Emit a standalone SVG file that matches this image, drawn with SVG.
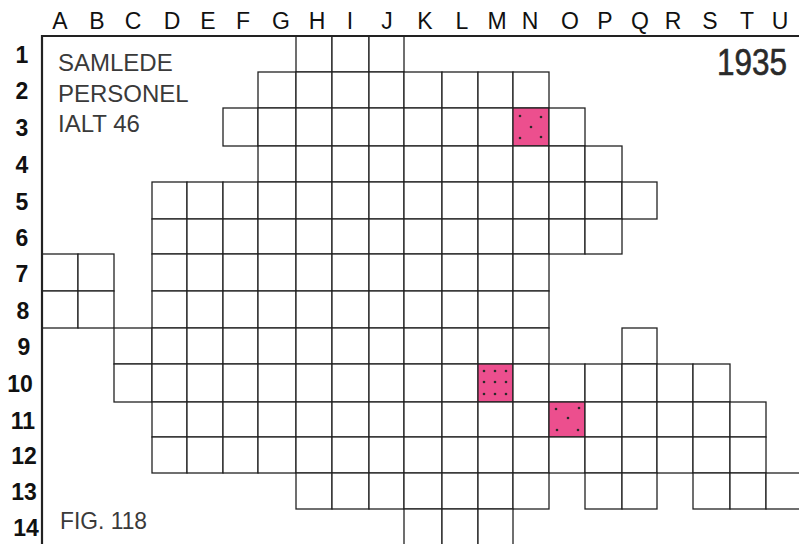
<svg xmlns="http://www.w3.org/2000/svg" width="799" height="544" viewBox="0 0 799 544">
<style>
.c{fill:#fff;stroke:#222;stroke-width:1.3}
.p{fill:#ec4f8e;stroke:#222;stroke-width:1.3}
.d{fill:#2a2a2a}
.col{font-family:"Liberation Sans",Arial,sans-serif;font-size:23px;fill:#111;text-anchor:middle}
.row{font-family:"Liberation Sans",Arial,sans-serif;font-size:23px;font-weight:bold;fill:#111;text-anchor:middle}
.t{font-family:"Liberation Sans",Arial,sans-serif;font-size:24px;fill:#3a3a3a}
.yr{fill:#2a2a2a;stroke:#2a2a2a;stroke-width:0.6}
.frame{fill:none;stroke:#222;stroke-width:2.2}
</style>
<rect width="799" height="544" fill="#fff"/>
<g id="column-labels" class="col">
<text x="60" y="29">A</text><text x="97" y="29">B</text><text x="133" y="29">C</text><text x="172" y="29">D</text><text x="208" y="29">E</text><text x="243" y="29">F</text><text x="281" y="29">G</text><text x="317" y="29">H</text><text x="350" y="29">I</text><text x="387" y="29">J</text><text x="425" y="29">K</text><text x="462" y="29">L</text><text x="497" y="29">M</text><text x="530" y="29">N</text><text x="570" y="29">O</text><text x="605" y="29">P</text><text x="640" y="29">Q</text><text x="673" y="29">R</text><text x="710" y="29">S</text><text x="747" y="29">T</text><text x="780" y="29">U</text>
</g>
<g id="row-labels" class="row">
<text x="22" y="63">1</text><text x="22" y="99">2</text><text x="22" y="136">3</text><text x="22" y="173">4</text><text x="22" y="210">5</text><text x="22" y="246">6</text><text x="22" y="282">7</text><text x="23" y="319">8</text><text x="24" y="355">9</text><text x="20" y="392">10</text><text x="23" y="429">11</text><text x="24" y="464">12</text><text x="24" y="500">13</text><text x="26" y="536">14</text>
</g>
<g id="grid">
<g id="row1">
<rect class="c" x="296" y="36" width="36" height="36"/><rect class="c" x="332" y="36" width="37" height="36"/><rect class="c" x="369" y="36" width="35" height="36"/>
</g>
<g id="row2">
<rect class="c" x="258" y="72" width="38" height="36"/><rect class="c" x="296" y="72" width="36" height="36"/><rect class="c" x="332" y="72" width="37" height="36"/><rect class="c" x="369" y="72" width="35" height="36"/><rect class="c" x="404" y="72" width="38" height="36"/><rect class="c" x="442" y="72" width="36" height="36"/><rect class="c" x="478" y="72" width="35" height="36"/><rect class="c" x="513" y="72" width="36" height="36"/>
</g>
<g id="row3">
<rect class="c" x="223" y="108" width="35" height="38"/><rect class="c" x="258" y="108" width="38" height="38"/><rect class="c" x="296" y="108" width="36" height="38"/><rect class="c" x="332" y="108" width="37" height="38"/><rect class="c" x="369" y="108" width="35" height="38"/><rect class="c" x="404" y="108" width="38" height="38"/><rect class="c" x="442" y="108" width="36" height="38"/><rect class="c" x="478" y="108" width="35" height="38"/><rect class="p" x="513" y="108" width="36" height="38"/><rect class="c" x="549" y="108" width="36" height="38"/>
</g>
<g id="row4">
<rect class="c" x="258" y="146" width="38" height="36"/><rect class="c" x="296" y="146" width="36" height="36"/><rect class="c" x="332" y="146" width="37" height="36"/><rect class="c" x="369" y="146" width="35" height="36"/><rect class="c" x="404" y="146" width="38" height="36"/><rect class="c" x="442" y="146" width="36" height="36"/><rect class="c" x="478" y="146" width="35" height="36"/><rect class="c" x="513" y="146" width="36" height="36"/><rect class="c" x="549" y="146" width="36" height="36"/><rect class="c" x="585" y="146" width="37" height="36"/>
</g>
<g id="row5">
<rect class="c" x="152" y="182" width="35" height="37"/><rect class="c" x="187" y="182" width="36" height="37"/><rect class="c" x="223" y="182" width="35" height="37"/><rect class="c" x="258" y="182" width="38" height="37"/><rect class="c" x="296" y="182" width="36" height="37"/><rect class="c" x="332" y="182" width="37" height="37"/><rect class="c" x="369" y="182" width="35" height="37"/><rect class="c" x="404" y="182" width="38" height="37"/><rect class="c" x="442" y="182" width="36" height="37"/><rect class="c" x="478" y="182" width="35" height="37"/><rect class="c" x="513" y="182" width="36" height="37"/><rect class="c" x="549" y="182" width="36" height="37"/><rect class="c" x="585" y="182" width="37" height="37"/><rect class="c" x="622" y="182" width="35" height="37"/>
</g>
<g id="row6">
<rect class="c" x="152" y="219" width="35" height="35"/><rect class="c" x="187" y="219" width="36" height="35"/><rect class="c" x="223" y="219" width="35" height="35"/><rect class="c" x="258" y="219" width="38" height="35"/><rect class="c" x="296" y="219" width="36" height="35"/><rect class="c" x="332" y="219" width="37" height="35"/><rect class="c" x="369" y="219" width="35" height="35"/><rect class="c" x="404" y="219" width="38" height="35"/><rect class="c" x="442" y="219" width="36" height="35"/><rect class="c" x="478" y="219" width="35" height="35"/><rect class="c" x="513" y="219" width="36" height="35"/><rect class="c" x="549" y="219" width="36" height="35"/><rect class="c" x="585" y="219" width="37" height="35"/>
</g>
<g id="row7">
<rect class="c" x="42" y="254" width="36" height="37"/><rect class="c" x="78" y="254" width="36" height="37"/>
<rect class="c" x="152" y="254" width="35" height="37"/><rect class="c" x="187" y="254" width="36" height="37"/><rect class="c" x="223" y="254" width="35" height="37"/><rect class="c" x="258" y="254" width="38" height="37"/><rect class="c" x="296" y="254" width="36" height="37"/><rect class="c" x="332" y="254" width="37" height="37"/><rect class="c" x="369" y="254" width="35" height="37"/><rect class="c" x="404" y="254" width="38" height="37"/><rect class="c" x="442" y="254" width="36" height="37"/><rect class="c" x="478" y="254" width="35" height="37"/><rect class="c" x="513" y="254" width="36" height="37"/>
</g>
<g id="row8">
<rect class="c" x="42" y="291" width="36" height="37"/><rect class="c" x="78" y="291" width="36" height="37"/>
<rect class="c" x="152" y="291" width="35" height="37"/><rect class="c" x="187" y="291" width="36" height="37"/><rect class="c" x="223" y="291" width="35" height="37"/><rect class="c" x="258" y="291" width="38" height="37"/><rect class="c" x="296" y="291" width="36" height="37"/><rect class="c" x="332" y="291" width="37" height="37"/><rect class="c" x="369" y="291" width="35" height="37"/><rect class="c" x="404" y="291" width="38" height="37"/><rect class="c" x="442" y="291" width="36" height="37"/><rect class="c" x="478" y="291" width="35" height="37"/><rect class="c" x="513" y="291" width="36" height="37"/>
</g>
<g id="row9">
<rect class="c" x="114" y="328" width="38" height="36"/><rect class="c" x="152" y="328" width="35" height="36"/><rect class="c" x="187" y="328" width="36" height="36"/><rect class="c" x="223" y="328" width="35" height="36"/><rect class="c" x="258" y="328" width="38" height="36"/><rect class="c" x="296" y="328" width="36" height="36"/><rect class="c" x="332" y="328" width="37" height="36"/><rect class="c" x="369" y="328" width="35" height="36"/><rect class="c" x="404" y="328" width="38" height="36"/><rect class="c" x="442" y="328" width="36" height="36"/><rect class="c" x="478" y="328" width="35" height="36"/><rect class="c" x="513" y="328" width="36" height="36"/>
<rect class="c" x="622" y="328" width="35" height="36"/>
</g>
<g id="row10">
<rect class="c" x="114" y="364" width="38" height="38"/><rect class="c" x="152" y="364" width="35" height="38"/><rect class="c" x="187" y="364" width="36" height="38"/><rect class="c" x="223" y="364" width="35" height="38"/><rect class="c" x="258" y="364" width="38" height="38"/><rect class="c" x="296" y="364" width="36" height="38"/><rect class="c" x="332" y="364" width="37" height="38"/><rect class="c" x="369" y="364" width="35" height="38"/><rect class="c" x="404" y="364" width="38" height="38"/><rect class="c" x="442" y="364" width="36" height="38"/><rect class="p" x="478" y="364" width="35" height="38"/><rect class="c" x="513" y="364" width="36" height="38"/><rect class="c" x="549" y="364" width="36" height="38"/><rect class="c" x="585" y="364" width="37" height="38"/><rect class="c" x="622" y="364" width="35" height="38"/><rect class="c" x="657" y="364" width="36" height="38"/><rect class="c" x="693" y="364" width="37" height="38"/>
</g>
<g id="row11">
<rect class="c" x="152" y="402" width="35" height="35"/><rect class="c" x="187" y="402" width="36" height="35"/><rect class="c" x="223" y="402" width="35" height="35"/><rect class="c" x="258" y="402" width="38" height="35"/><rect class="c" x="296" y="402" width="36" height="35"/><rect class="c" x="332" y="402" width="37" height="35"/><rect class="c" x="369" y="402" width="35" height="35"/><rect class="c" x="404" y="402" width="38" height="35"/><rect class="c" x="442" y="402" width="36" height="35"/><rect class="c" x="478" y="402" width="35" height="35"/><rect class="c" x="513" y="402" width="36" height="35"/><rect class="p" x="549" y="402" width="36" height="35"/><rect class="c" x="585" y="402" width="37" height="35"/><rect class="c" x="622" y="402" width="35" height="35"/><rect class="c" x="657" y="402" width="36" height="35"/><rect class="c" x="693" y="402" width="37" height="35"/><rect class="c" x="730" y="402" width="36" height="35"/>
</g>
<g id="row12">
<rect class="c" x="152" y="437" width="35" height="36"/><rect class="c" x="187" y="437" width="36" height="36"/><rect class="c" x="223" y="437" width="35" height="36"/><rect class="c" x="258" y="437" width="38" height="36"/><rect class="c" x="296" y="437" width="36" height="36"/><rect class="c" x="332" y="437" width="37" height="36"/><rect class="c" x="369" y="437" width="35" height="36"/><rect class="c" x="404" y="437" width="38" height="36"/><rect class="c" x="442" y="437" width="36" height="36"/><rect class="c" x="478" y="437" width="35" height="36"/><rect class="c" x="513" y="437" width="36" height="36"/><rect class="c" x="549" y="437" width="36" height="36"/><rect class="c" x="585" y="437" width="37" height="36"/><rect class="c" x="622" y="437" width="35" height="36"/><rect class="c" x="657" y="437" width="36" height="36"/><rect class="c" x="693" y="437" width="37" height="36"/><rect class="c" x="730" y="437" width="36" height="36"/>
</g>
<g id="row13">
<rect class="c" x="296" y="473" width="36" height="36"/><rect class="c" x="332" y="473" width="37" height="36"/><rect class="c" x="369" y="473" width="35" height="36"/><rect class="c" x="404" y="473" width="38" height="36"/><rect class="c" x="442" y="473" width="36" height="36"/><rect class="c" x="478" y="473" width="35" height="36"/><rect class="c" x="513" y="473" width="36" height="36"/>
<rect class="c" x="585" y="473" width="37" height="36"/><rect class="c" x="622" y="473" width="35" height="36"/>
<rect class="c" x="693" y="473" width="37" height="36"/><rect class="c" x="730" y="473" width="36" height="36"/><rect class="c" x="766" y="473" width="40" height="36"/>
</g>
<g id="row14">
<rect class="c" x="404" y="509" width="38" height="40"/><rect class="c" x="442" y="509" width="36" height="40"/><rect class="c" x="478" y="509" width="35" height="40"/>
</g>
</g>
<g id="dots" class="d">
<circle cx="520" cy="116" r="1.3"/><circle cx="541" cy="117" r="1.3"/><circle cx="531" cy="127" r="1.3"/><circle cx="520" cy="138" r="1.3"/><circle cx="541" cy="137" r="1.3"/>
<circle cx="484" cy="371" r="1.3"/><circle cx="495" cy="371" r="1.3"/><circle cx="506" cy="371" r="1.3"/><circle cx="484" cy="382" r="1.3"/><circle cx="495" cy="382" r="1.3"/><circle cx="506" cy="382" r="1.3"/><circle cx="484" cy="394" r="1.3"/><circle cx="495" cy="394" r="1.3"/><circle cx="506" cy="394" r="1.3"/>
<circle cx="556" cy="409" r="1.3"/><circle cx="579" cy="408" r="1.3"/><circle cx="568" cy="418" r="1.3"/><circle cx="557" cy="430" r="1.3"/><circle cx="578" cy="430" r="1.3"/>
</g>
<path class="frame" d="M42,544 V36 H799"/>
<g id="texts" class="t">
<text x="58" y="71">SAMLEDE</text>
<text x="58" y="102">PERSONEL</text>
<text x="58" y="132">IALT 46</text>
<text x="60" y="529" textLength="87" lengthAdjust="spacingAndGlyphs">FIG. 118</text>
<text class="yr" x="717" y="75" font-size="37" textLength="70" lengthAdjust="spacingAndGlyphs">1935</text>
</g>
</svg>
